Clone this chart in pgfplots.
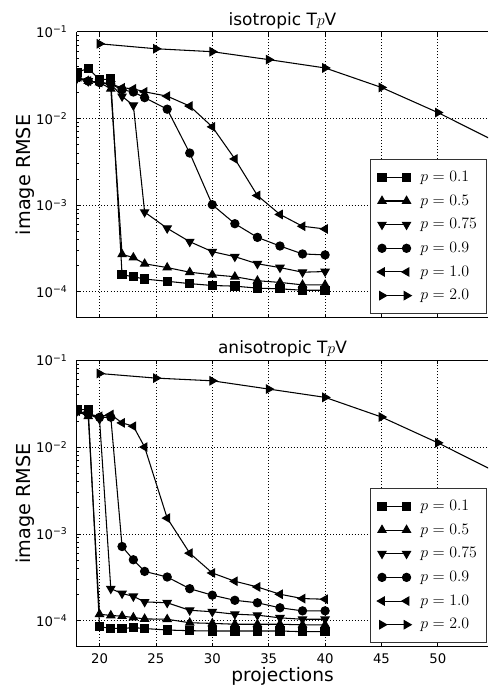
\documentclass[border=0pt]{standalone}
\usepackage{pgfplots}
\pgfplotsset{compat=1.18}
\usepackage{fontspec}
\setmainfont{DejaVu Sans}

\pgfplotsset{
  myaxisstyle/.style={
    scale only axis, width=309.8pt, height=215.5pt,
    ymin=5.0e-5, ymax=0.1, xmin=18, xmax=54.45,
    axis x line*=box, axis y line*=left,
    xtick={20,25,30,35,40,45,50},
    ytick={1e-4,1e-3,1e-2,1e-1},
    yticklabels={10\textsuperscript{−4},10\textsuperscript{−3},10\textsuperscript{−2},10\textsuperscript{−1}},
    grid=major,
    major grid style={black, line width=0.6pt, dash pattern=on 0.7pt off 1.6pt},
    tick align=inside,
    major tick length=3pt, minor tick length=1.6pt,
    every tick/.style={black, line width=0.6pt},
    axis line style={black, line width=0.8pt, -},
    /pgf/number format/assume math mode=true,
    tick label style={font=\fontsize{10}{12}\selectfont},
    yticklabel style={anchor=east, inner sep=0pt, xshift=-7pt},
    xticklabel style={anchor=north, inner sep=0pt, yshift=-5pt},
    every axis y label/.style={at={(axis description cs:-0.1267,0.5)}, anchor=center, rotate=90, font=\fontsize{14.5}{16}\selectfont},
    ylabel={image RMSE},
    every axis title/.style={at={(0.5,1)}, anchor=base, yshift=5pt, font=\fontsize{12.8}{14}\selectfont},
    clip marker paths=true,
    legend style={at={(rel axis cs:0.997,0.0125)}, anchor=south east, draw=black!80, line width=0.8pt,
      font=\fontsize{12}{14}\selectfont, row sep=4.6pt, column sep=5pt, inner xsep=5pt, inner ysep=7pt, cells={anchor=west}},
    legend image code/.code={\draw[mark repeat=2,mark phase=1,##1] plot coordinates {(0cm,0cm) (0.325cm,0cm) (0.65cm,0cm)};},
    legend entries={$p=0.1$,$p=0.5$,$p=0.75$,$p=0.9$,$p=1.0$,$p=2.0$},
  },
  s1/.style={black, line width=0.8pt, mark=square*, mark size=3.1pt, mark options={solid, fill=black}},
  s2/.style={black, line width=0.8pt, mark=triangle*, mark size=3.5pt, mark options={solid, fill=black}},
  s3/.style={black, line width=0.8pt, mark=triangle*, mark size=3.5pt, mark options={solid, fill=black, rotate=180}},
  s4/.style={black, line width=0.8pt, mark=*, mark size=3.1pt, mark options={solid, fill=black}},
  s5/.style={black, line width=0.8pt, mark=triangle*, mark size=3.5pt, mark options={solid, fill=black, rotate=90}},
  s6/.style={black, line width=0.8pt, mark=triangle*, mark size=3.5pt, mark options={solid, fill=black, rotate=-90}},
}

\begin{document}
\begin{tikzpicture}
\path (0,0) rectangle (369pt,517.5pt);

\begin{axis}[ymode=log, myaxisstyle, at={(58pt,278pt)}, anchor=south west,
  title={isotropic T$p$V}, xticklabels={}]
\addplot[s1] coordinates {(18,0.034)(19,0.038)(20,0.028)(21,0.0285)(22,1.57e-4)(23,1.49e-4)(24,1.40e-4)(26,1.32e-4)(28,1.24e-4)(30,1.18e-4)(32,1.16e-4)(34,1.10e-4)(36,1.08e-4)(38,1.04e-4)(40,1.04e-4)};
\addplot[s2] coordinates {(18,0.029)(19,0.027)(20,0.026)(21,0.022)(22,2.7e-4)(23,2.48e-4)(24,2.1e-4)(26,1.9e-4)(28,1.68e-4)(30,1.57e-4)(32,1.49e-4)(34,1.34e-4)(36,1.28e-4)(38,1.2e-4)(40,1.2e-4)};
\addplot[s3] coordinates {(18,0.029)(19,0.027)(20,0.026)(21,0.025)(22,0.018)(23,0.0142)(24,8.3e-4)(26,5.4e-4)(28,3.78e-4)(30,2.9e-4)(32,2.54e-4)(34,2.1e-4)(36,1.9e-4)(38,1.68e-4)(40,1.71e-4)};
\addplot[s4] coordinates {(18,0.030)(19,0.027)(20,0.026)(21,0.025)(22,0.0215)(23,0.0202)(24,0.0174)(26,0.0128)(28,3.99e-3)(30,1.01e-3)(32,6.1e-4)(34,4.24e-4)(36,3.37e-4)(38,2.73e-4)(40,2.66e-4)};
\addplot[s5] coordinates {(18,0.030)(19,0.027)(20,0.026)(21,0.025)(22,0.0226)(23,0.022)(24,0.0203)(26,0.0181)(28,0.0139)(30,0.0080)(32,0.00341)(34,0.00129)(36,7.8e-4)(38,5.7e-4)(40,5.3e-4)};
\addplot[s6] coordinates {(20,0.0728)(25,0.0638)(30,0.059)(35,0.0478)(40,0.0383)(45,0.0228)(50,0.0117)(60,0.0026)};
\end{axis}

\begin{axis}[ymode=log, myaxisstyle, at={(58pt,30pt)}, anchor=south west, height=216pt,
  title={anisotropic T$p$V},
  xlabel={projections},
  every axis x label/.style={at={(axis description cs:0.5,0)}, anchor=base, yshift=-26.25pt, font=\fontsize{14}{16}\selectfont}]
\addplot[s1] coordinates {(18,0.027)(19,0.027)(20,8.53e-5)(21,8.17e-5)(22,8.14e-5)(23,8.34e-5)(24,8.14e-5)(26,7.82e-5)(28,7.68e-5)(30,7.62e-5)(32,7.62e-5)(34,7.62e-5)(36,7.62e-5)(38,7.48e-5)(40,7.48e-5)};
\addplot[s2] coordinates {(18,0.026)(19,0.0226)(20,1.19e-4)(21,1.15e-4)(22,1.13e-4)(23,1.09e-4)(24,1.05e-4)(26,1.04e-4)(28,9.48e-5)(30,9.32e-5)(32,9.12e-5)(34,9.12e-5)(36,9.12e-5)(38,8.97e-5)(40,8.97e-5)};
\addplot[s3] coordinates {(18,0.026)(19,0.024)(20,0.021)(21,2.34e-4)(22,2.06e-4)(23,1.91e-4)(24,1.65e-4)(26,1.61e-4)(28,1.32e-4)(30,1.27e-4)(32,1.19e-4)(34,1.16e-4)(36,1.08e-4)(38,1.04e-4)(40,1.04e-4)};
\addplot[s4] coordinates {(18,0.026)(19,0.024)(20,0.022)(21,0.0221)(22,7.16e-4)(23,5.04e-4)(24,3.7e-4)(26,3.19e-4)(28,2.34e-4)(30,1.97e-4)(32,1.72e-4)(34,1.61e-4)(36,1.41e-4)(38,1.3e-4)(40,1.3e-4)};
\addplot[s5] coordinates {(18,0.026)(19,0.024)(20,0.0226)(21,0.0237)(22,0.019)(23,0.0174)(24,0.0100)(26,1.52e-3)(28,6.0e-4)(30,3.55e-4)(32,2.85e-4)(34,2.45e-4)(36,2.02e-4)(38,1.8e-4)(40,1.77e-4)};
\addplot[s6] coordinates {(20,0.0704)(25,0.0623)(30,0.058)(35,0.0466)(40,0.0374)(45,0.0222)(50,0.0112)(60,0.0025)};
\end{axis}

\end{tikzpicture}
\end{document}
